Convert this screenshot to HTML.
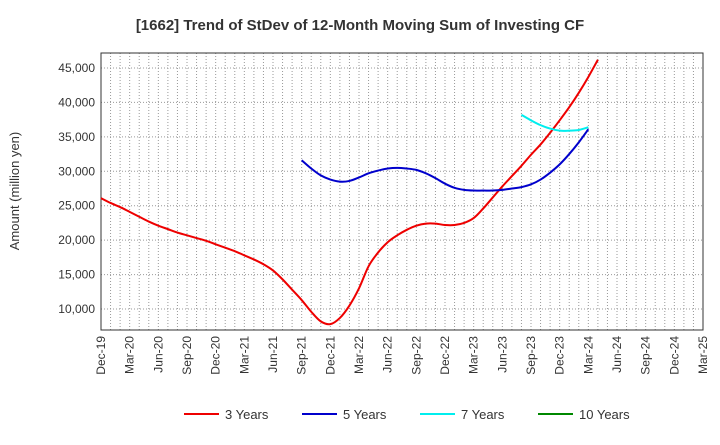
<!DOCTYPE html>
<html><head><meta charset="utf-8"><style>
body{margin:0;background:#fff;font-family:"Liberation Sans",sans-serif}
svg text{font-family:"Liberation Sans",sans-serif}
</style></head><body>
<svg id="c" width="720" height="440" viewBox="0 0 720 440"></svg>
<script>
const xLabels=["Dec-19","Mar-20","Jun-20","Sep-20","Dec-20","Mar-21","Jun-21","Sep-21","Dec-21","Mar-22","Jun-22","Sep-22","Dec-22","Mar-23","Jun-23","Sep-23","Dec-23","Mar-24","Jun-24","Sep-24","Dec-24","Mar-25"];
const yTicks=[10000,15000,20000,25000,30000,35000,40000,45000];
const s3start=0;
const s3=[26100,25400,24800,24100,23400,22700,22100,21600,21100,20700,20300,19900,19400,18900,18400,17800,17200,16500,15600,14300,12800,11300,9600,8200,7800,8700,10500,13000,16200,18200,19700,20700,21500,22100,22400,22400,22200,22200,22500,23200,24600,26200,27800,29300,30800,32400,33900,35600,37400,39300,41400,43700,46200];
const s5start=21;
const s5=[31600,30400,29400,28800,28500,28600,29100,29700,30100,30400,30500,30400,30200,29700,29000,28200,27600,27300,27200,27200,27200,27300,27500,27700,28100,28800,29800,31000,32500,34200,36100];
const s7start=44;
const s7=[38200,37400,36700,36200,35900,35900,36000,36400];
const s10=[];
const svg=document.getElementById('c');const NS='http://www.w3.org/2000/svg';
const L=101,R=703,T=53,B=330;
const x=m=>L+m*(R-L)/63;
const y=v=>309-(v-10000)/5000*34.43;
function mk(t,a,txt){const e=document.createElementNS(NS,t);for(const k in a)e.setAttribute(k,a[k]);if(txt!=null)e.textContent=txt;svg.appendChild(e);return e;}
let e=mk('rect',{x:L,y:T,width:R-L,height:B-T,fill:'#fff',stroke:'none'});


for(let m=1;m<63;m++){e=mk('line',{x1:x(m),x2:x(m),y1:T,y2:B,stroke:'#999','stroke-dasharray':'1,2','stroke-width':1});

}
yTicks.forEach(v=>{e=mk('line',{x1:L,x2:R,y1:y(v),y2:y(v),stroke:'#999','stroke-dasharray':'1,2','stroke-width':1});


e=mk('text',{x:L-6,y:y(v)+4,'text-anchor':'end','font-size':12,fill:'#333'},v.toLocaleString('en-US'));

});
xLabels.forEach((lb,i)=>{const xx=x(i*3);e=mk('text',{x:xx+4,y:B+6,'text-anchor':'end','font-size':12,fill:'#333',transform:`rotate(-90 ${xx+4} ${B+6})`},lb);

});
e=mk('rect',{x:L,y:T,width:R-L,height:B-T,fill:'none',stroke:'#333','stroke-width':1});


function path(start,vals){if(!vals.length)return '';const p=vals.map((v,i)=>[x(start+i),y(v)]);let d=`M${p[0][0]},${p[0][1]}`;
for(let i=0;i<p.length-1;i++){const p0=p[i-1]||p[i],p1=p[i],p2=p[i+1],p3=p[i+2]||p2;
d+=` C${p1[0]+(p2[0]-p0[0])/6},${p1[1]+(p2[1]-p0[1])/6} ${p2[0]-(p3[0]-p1[0])/6},${p2[1]-(p3[1]-p1[1])/6} ${p2[0]},${p2[1]}`;}return d;}
[[s3start,s3,'#e00','series-3-years'],[s5start,s5,'#00c','series-5-years'],[s7start,s7,'#0ee','series-7-years'],[0,s10,'#080','series-10-years']].forEach(s=>{if(!s[1].length)return;
e=mk('path',{d:path(s[0],s[1]),fill:'none',stroke:s[2],'stroke-width':2});

});
e=mk('text',{x:360,y:30,'text-anchor':'middle','font-size':15,'font-weight':'bold',fill:'#333'},'[1662]  Trend of StDev of 12-Month Moving Sum of Investing CF');


e=mk('text',{x:19,y:191,'text-anchor':'middle','font-size':13,fill:'#333',transform:'rotate(-90 19 191)'},'Amount (million yen)');


[['3 Years','#e00',184],['5 Years','#00c',302],['7 Years','#0ee',420],['10 Years','#080',538]].forEach(l=>{
e=mk('line',{x1:l[2],x2:l[2]+35,y1:414,y2:414,stroke:l[1],'stroke-width':2});


e=mk('text',{x:l[2]+41,y:419,'font-size':13,fill:'#333'},l[0]);

});
</script>
</body></html>
